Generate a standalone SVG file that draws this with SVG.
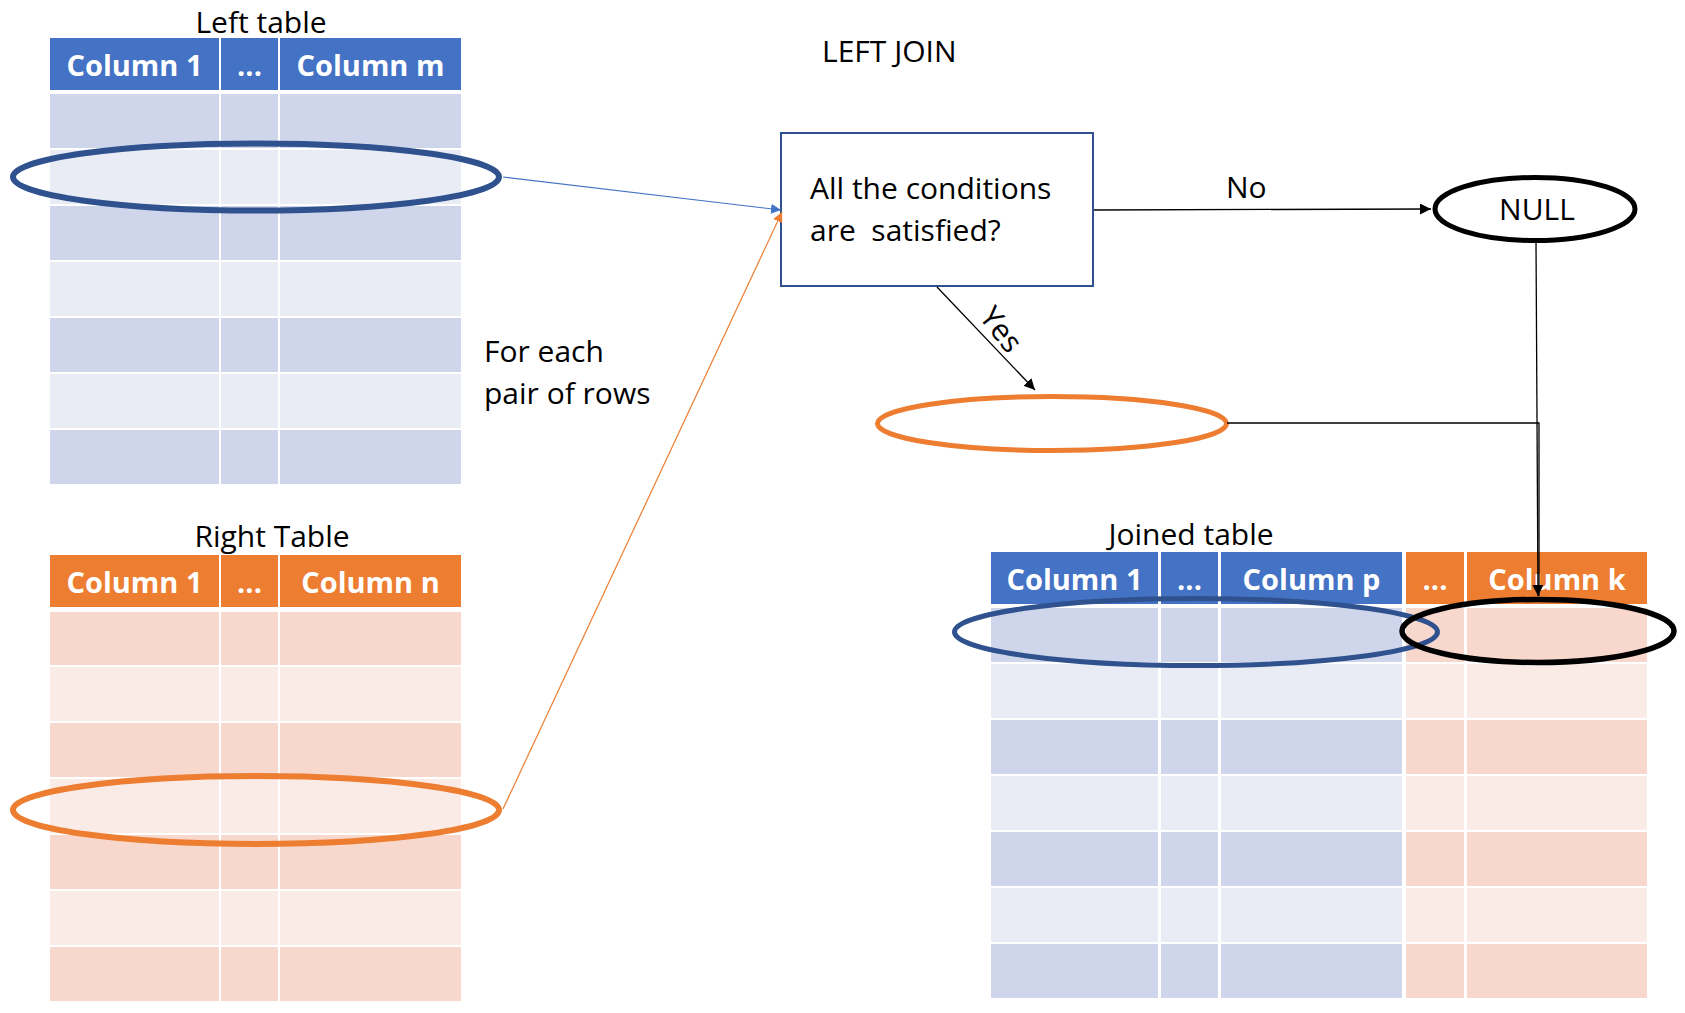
<svg xmlns="http://www.w3.org/2000/svg" width="1685" height="1013" viewBox="0 0 1685 1013">
<style>
text{font-family:"Open Sans","Noto Sans","Liberation Sans",sans-serif;font-size:30px;fill:#000}
.hd{font-weight:bold;fill:#fff;text-anchor:middle;font-size:29px}
.c{text-anchor:middle}
.bh{fill:#4472C4}.bd{fill:#CFD5EA}.bl{fill:#E9EBF5}
.oh{fill:#ED7D31}.od{fill:#F8D7CC}.ol{fill:#FBEBE7}
.eb{fill:none;stroke:#2F528F;stroke-width:6}
.eo{fill:none;stroke:#ED7D31;stroke-width:6}
.ek{fill:none;stroke:#000;stroke-width:5}
.ln{fill:none;stroke:#000;stroke-width:1.3}
</style>
<defs>
<marker id="ab" viewBox="0 0 10 10" refX="10" refY="5" markerWidth="10" markerHeight="10" markerUnits="userSpaceOnUse" orient="auto"><path d="M0,0L10,5L0,10z" fill="#4472C4"/></marker>
<marker id="ao" viewBox="0 0 10 10" refX="10" refY="5" markerWidth="10" markerHeight="10" markerUnits="userSpaceOnUse" orient="auto"><path d="M0,0L10,5L0,10z" fill="#ED7D31"/></marker>
<marker id="ak" viewBox="0 0 10 10" refX="10" refY="5" markerWidth="11" markerHeight="11" markerUnits="userSpaceOnUse" orient="auto"><path d="M0,0L10,5L0,10z" fill="#000"/></marker>
</defs>

<g id="left-table">
<text class="c" x="261" y="33">Left table</text>
<rect class="bh" x="50" y="38" width="169" height="52"/><rect class="bh" x="221" y="38" width="57" height="52"/><rect class="bh" x="280" y="38" width="181" height="52"/>
<text class="hd" x="134.5" y="76">Column 1</text><text class="hd" x="249.5" y="76">...</text><text class="hd" x="370.5" y="76">Column m</text>
<g class="bd"><rect x="50" y="94" width="169" height="54"/><rect x="221" y="94" width="57" height="54"/><rect x="280" y="94" width="181" height="54"/></g>
<g class="bl"><rect x="50" y="150" width="169" height="54"/><rect x="221" y="150" width="57" height="54"/><rect x="280" y="150" width="181" height="54"/></g>
<g class="bd"><rect x="50" y="206" width="169" height="54"/><rect x="221" y="206" width="57" height="54"/><rect x="280" y="206" width="181" height="54"/></g>
<g class="bl"><rect x="50" y="262" width="169" height="54"/><rect x="221" y="262" width="57" height="54"/><rect x="280" y="262" width="181" height="54"/></g>
<g class="bd"><rect x="50" y="318" width="169" height="54"/><rect x="221" y="318" width="57" height="54"/><rect x="280" y="318" width="181" height="54"/></g>
<g class="bl"><rect x="50" y="374" width="169" height="54"/><rect x="221" y="374" width="57" height="54"/><rect x="280" y="374" width="181" height="54"/></g>
<g class="bd"><rect x="50" y="430" width="169" height="54"/><rect x="221" y="430" width="57" height="54"/><rect x="280" y="430" width="181" height="54"/></g>
</g>

<g id="right-table">
<text class="c" x="272" y="547">Right Table</text>
<rect class="oh" x="50" y="555" width="169" height="52"/><rect class="oh" x="221" y="555" width="57" height="52"/><rect class="oh" x="280" y="555" width="181" height="52"/>
<text class="hd" x="134.5" y="593">Column 1</text><text class="hd" x="249.5" y="593">...</text><text class="hd" x="370.5" y="593">Column n</text>
<g class="od"><rect x="50" y="612" width="169" height="53"/><rect x="221" y="612" width="57" height="53"/><rect x="280" y="612" width="181" height="53"/></g>
<g class="ol"><rect x="50" y="667" width="169" height="54"/><rect x="221" y="667" width="57" height="54"/><rect x="280" y="667" width="181" height="54"/></g>
<g class="od"><rect x="50" y="723" width="169" height="54"/><rect x="221" y="723" width="57" height="54"/><rect x="280" y="723" width="181" height="54"/></g>
<g class="ol"><rect x="50" y="779" width="169" height="54"/><rect x="221" y="779" width="57" height="54"/><rect x="280" y="779" width="181" height="54"/></g>
<g class="od"><rect x="50" y="835" width="169" height="54"/><rect x="221" y="835" width="57" height="54"/><rect x="280" y="835" width="181" height="54"/></g>
<g class="ol"><rect x="50" y="891" width="169" height="54"/><rect x="221" y="891" width="57" height="54"/><rect x="280" y="891" width="181" height="54"/></g>
<g class="od"><rect x="50" y="947" width="169" height="54"/><rect x="221" y="947" width="57" height="54"/><rect x="280" y="947" width="181" height="54"/></g>
</g>

<g id="joined-table">
<text class="c" x="1191" y="545">Joined table</text>
<rect class="bh" x="991" y="552" width="167" height="52"/><rect class="bh" x="1161" y="552" width="57" height="52"/><rect class="bh" x="1221" y="552" width="181" height="52"/>
<rect class="oh" x="1406" y="552" width="58" height="52"/><rect class="oh" x="1467" y="552" width="180" height="52"/>
<text class="hd" x="1074.5" y="590">Column 1</text><text class="hd" x="1189.5" y="590">...</text><text class="hd" x="1311.5" y="590">Column p</text>
<text class="hd" x="1435" y="590">...</text><text class="hd" x="1557" y="590">Column k</text>
<g class="bd"><rect x="991" y="608" width="167" height="54"/><rect x="1161" y="608" width="57" height="54"/><rect x="1221" y="608" width="181" height="54"/></g>
<g class="od"><rect x="1406" y="608" width="58" height="54"/><rect x="1467" y="608" width="180" height="54"/></g>
<g class="bl"><rect x="991" y="664" width="167" height="54"/><rect x="1161" y="664" width="57" height="54"/><rect x="1221" y="664" width="181" height="54"/></g>
<g class="ol"><rect x="1406" y="664" width="58" height="54"/><rect x="1467" y="664" width="180" height="54"/></g>
<g class="bd"><rect x="991" y="720" width="167" height="54"/><rect x="1161" y="720" width="57" height="54"/><rect x="1221" y="720" width="181" height="54"/></g>
<g class="od"><rect x="1406" y="720" width="58" height="54"/><rect x="1467" y="720" width="180" height="54"/></g>
<g class="bl"><rect x="991" y="776" width="167" height="54"/><rect x="1161" y="776" width="57" height="54"/><rect x="1221" y="776" width="181" height="54"/></g>
<g class="ol"><rect x="1406" y="776" width="58" height="54"/><rect x="1467" y="776" width="180" height="54"/></g>
<g class="bd"><rect x="991" y="832" width="167" height="54"/><rect x="1161" y="832" width="57" height="54"/><rect x="1221" y="832" width="181" height="54"/></g>
<g class="od"><rect x="1406" y="832" width="58" height="54"/><rect x="1467" y="832" width="180" height="54"/></g>
<g class="bl"><rect x="991" y="888" width="167" height="54"/><rect x="1161" y="888" width="57" height="54"/><rect x="1221" y="888" width="181" height="54"/></g>
<g class="ol"><rect x="1406" y="888" width="58" height="54"/><rect x="1467" y="888" width="180" height="54"/></g>
<g class="bd"><rect x="991" y="944" width="167" height="54"/><rect x="1161" y="944" width="57" height="54"/><rect x="1221" y="944" width="181" height="54"/></g>
<g class="od"><rect x="1406" y="944" width="58" height="54"/><rect x="1467" y="944" width="180" height="54"/></g>
</g>

<g id="title"><text x="822" y="62">LEFT JOIN</text></g>
<g id="for-each"><text x="484" y="362">For each</text><text x="484" y="404">pair of rows</text></g>

<g id="left-row"><ellipse class="eb" cx="256" cy="177" rx="243" ry="33.5"/></g>
<g id="right-row"><ellipse class="eo" cx="256" cy="810" rx="243" ry="34"/></g>

<g id="condition">
<rect x="781" y="133" width="312" height="153" fill="#fff" stroke="#2F528F" stroke-width="2"/>
<text x="810" y="199">All the conditions</text>
<text x="810" y="241" xml:space="preserve">are  satisfied?</text>
</g>

<g id="null-node">
<ellipse class="ek" cx="1535" cy="209" rx="100" ry="31.5" fill="#fff"/>
<text class="c" x="1537" y="220">NULL</text>
</g>

<g id="match-row"><ellipse cx="1052" cy="423.5" rx="174.5" ry="27" fill="none" stroke="#ED7D31" stroke-width="5"/></g>

<g id="joined-left-part"><ellipse cx="1196" cy="632" rx="241.5" ry="33.5" fill="none" stroke="#2F528F" stroke-width="5"/></g>
<g id="joined-right-part"><ellipse cx="1538" cy="631" rx="136" ry="31.5" fill="none" stroke="#000" stroke-width="5.5"/></g>

<g id="connectors">
<line x1="503" y1="177" x2="781" y2="210" stroke="#4472C4" stroke-width="1.2" marker-end="url(#ab)"/>
<line x1="503" y1="809" x2="782" y2="212" stroke="#ED7D31" stroke-width="1.2" marker-end="url(#ao)"/>
<line class="ln" x1="1094" y1="210" x2="1431" y2="209" marker-end="url(#ak)"/>
<text x="1226" y="198">No</text>
<line class="ln" x1="937" y1="287" x2="1035" y2="390" marker-end="url(#ak)"/>
<text class="c" x="0" y="0" font-size="29" transform="translate(993,336) rotate(52)">Yes</text>
<line class="ln" x1="1536" y1="241" x2="1538" y2="596" marker-end="url(#ak)"/>
<path class="ln" d="M1227,423H1539V596"/>
</g>
</svg>
